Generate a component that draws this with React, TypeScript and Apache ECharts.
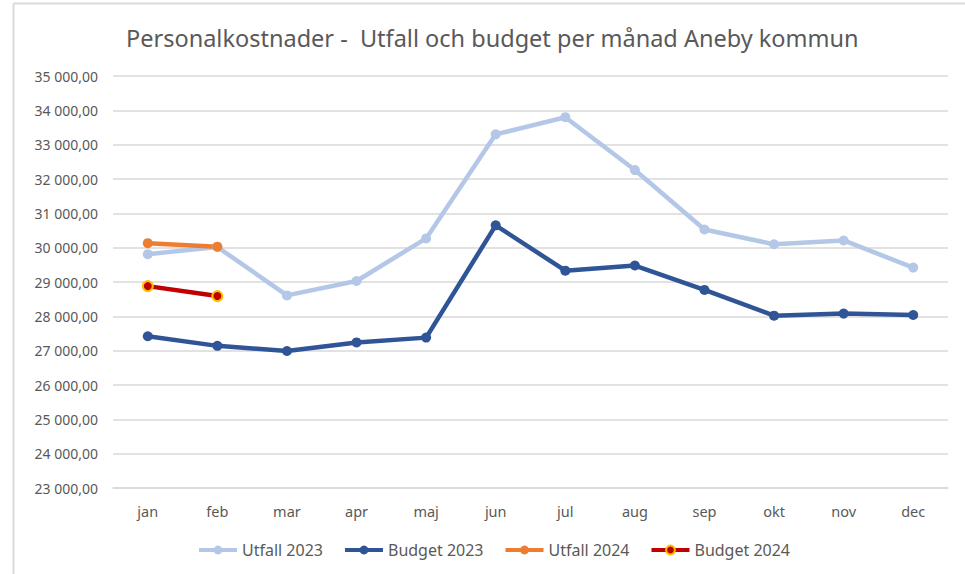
import React, { useEffect, useRef } from "react";
import * as echarts from "echarts";

const months = ["jan", "feb", "mar", "apr", "maj", "jun", "jul", "aug", "sep", "okt", "nov", "dec"];
const utfall2023 = [29810, 30020, 28610, 29030, 30270, 33300, 33800, 32260, 30530, 30100, 30210, 29420];
const budget2023 = [27420, 27140, 26990, 27240, 27380, 30650, 29330, 29480, 28770, 28020, 28080, 28040];
const utfall2024: (number | null)[] = [30130, 30030, null, null, null, null, null, null, null, null, null, null];
const budget2024: (number | null)[] = [28880, 28590, null, null, null, null, null, null, null, null, null, null];

const FONT = "'Noto Sans', 'Open Sans', sans-serif";

function fmt(v: number) {
  const thousands = Math.floor(v / 1000);
  const rest = Math.round(v % 1000);
  return `${thousands}\u00a0${String(rest).padStart(3, "0")},00`;
}

export default function App() {
  const ref = useRef<HTMLDivElement>(null);
  useEffect(() => {
    document.body.style.margin = "0";
    if (!ref.current) return;
    const chart = echarts.init(ref.current, null, { renderer: "svg" });
    const lineSeries = (name: string, data: (number | null)[], color: string, borderColor?: string) => ({
      name,
      type: "line",
      data,
      symbol: "circle",
      symbolSize: 10,
      connectNulls: false,
      lineStyle: { color, width: 4.5 },
      itemStyle: { color, borderColor: borderColor || color, borderWidth: borderColor ? 2 : 0 },
      emphasis: { disabled: true },
    });
    chart.setOption({
      animation: false,
      backgroundColor: "#ffffff",
      textStyle: { fontFamily: FONT },
      title: {
        text: "Personalkostnader -  Utfall och budget per månad Aneby kommun",
        left: 121,
        top: 21,
        textStyle: { fontFamily: FONT, fontSize: 23.5, fontWeight: "normal", color: "#595959" },
      },
      graphic: [
        { type: "line", shape: { x1: 13.5, y1: 3.5, x2: 965, y2: 3.5 }, style: { stroke: "#d9d9d9", lineWidth: 2 } },
        { type: "line", shape: { x1: 13.5, y1: 3.5, x2: 13.5, y2: 574 }, style: { stroke: "#d9d9d9", lineWidth: 2 } },
      ],
      grid: { left: 113, right: 17, top: 76, bottom: 86, containLabel: false },
      legend: {
        bottom: 11,
        left: 192,
        itemWidth: 38,
        itemHeight: 11,
        itemGap: 20,
        lineStyle: { width: 4 },
        textStyle: { fontFamily: FONT, fontSize: 16, color: "#595959" },
        data: ["Utfall 2023", "Budget 2023", "Utfall 2024", "Budget 2024"],
      },
      xAxis: {
        type: "category",
        data: months,
        boundaryGap: true,
        axisLine: { lineStyle: { color: "#d9d9d9", width: 1.5 } },
        axisTick: { show: false },
        axisLabel: { fontFamily: FONT, fontSize: 14.5, color: "#595959", margin: 15 },
      },
      yAxis: {
        type: "value",
        min: 23000,
        max: 35000,
        interval: 1000,
        axisLine: { show: false },
        axisTick: { show: false },
        splitLine: { lineStyle: { color: "#d9d9d9", width: 1.5 } },
        axisLabel: { fontFamily: FONT, fontSize: 14, color: "#595959", margin: 15, formatter: (v: number) => fmt(v) },
      },
      series: [
        lineSeries("Utfall 2023", utfall2023, "#b4c7e7"),
        lineSeries("Budget 2023", budget2023, "#2f5597"),
        lineSeries("Utfall 2024", utfall2024, "#ed7d31"),
        lineSeries("Budget 2024", budget2024, "#c00000", "#ffc000"),
      ],
    });
    return () => chart.dispose();
  }, []);
  return <div ref={ref} style={{ width: 965, height: 574 }} />;
}
